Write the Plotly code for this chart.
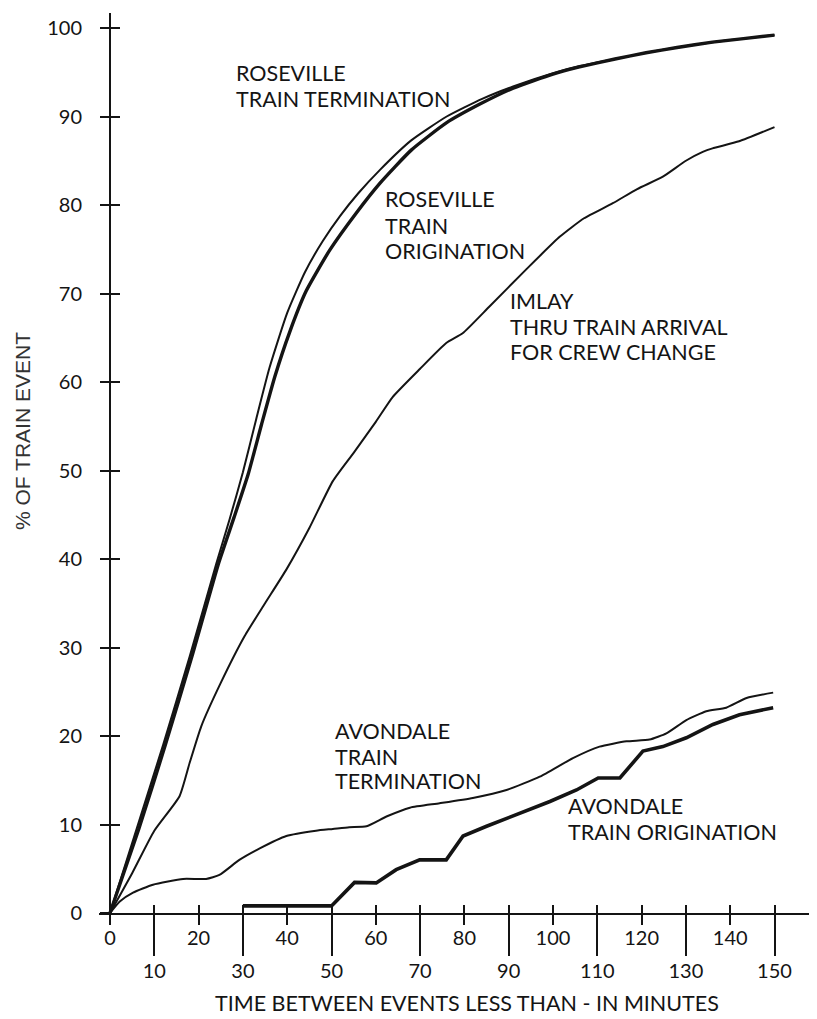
import plotly.graph_objects as go

# ---------------- data ----------------
ros_term_x = [0, 6, 12, 18, 24, 27, 30, 33, 36, 40, 44, 48, 52, 56, 61, 68, 76, 84, 91, 100, 106, 114, 121, 128, 136, 143, 150]
ros_term_y = [0, 9.5, 19, 29, 39.5, 44.5, 49.8, 55.8, 61.6, 67.8, 72.4, 75.9, 78.8, 81.3, 84.0, 87.3, 90.0, 92.0, 93.4, 94.9, 95.7, 96.5, 97.2, 97.8, 98.4, 98.8, 99.2]

ros_orig_x = [0, 6.5, 12.5, 18.5, 24.5, 28, 31.2, 34.2, 37.2, 40.6, 44.3, 49.6, 55.6, 61, 68, 76, 83.5, 91, 100, 106, 114, 121, 128, 136, 143, 150]
ros_orig_y = [0, 9.5, 19, 29, 39.5, 44.7, 49.6, 55.2, 60.6, 65.7, 70.3, 74.9, 79.1, 82.5, 86.2, 89.3, 91.4, 93.2, 94.8, 95.6, 96.5, 97.2, 97.8, 98.4, 98.8, 99.2]

imlay_x = [0, 5, 10, 15.7, 18, 20.6, 25, 30.4, 35, 39.8, 45, 50.3, 55, 60, 63.8, 70, 75.9, 79.6, 85.6, 93.9, 101.5, 107, 113.5, 119, 124.8, 130, 133.8, 136, 142, 150]
imlay_y = [0, 4.5, 9.3, 13.2, 17, 21.1, 26, 31.3, 35, 38.8, 43.5, 48.8, 52, 55.5, 58.3, 61.5, 64.4, 65.5, 68.5, 72.7, 76.4, 78.5, 80.2, 81.8, 83.2, 85, 86.0, 86.4, 87.2, 88.8]

avon_term_x = [0, 2.2, 5.2, 9.7, 16.5, 21.7, 24.7, 29.2, 33.8, 39.8, 46.5, 50.3, 54, 57.9, 62.4, 67.7, 74.4, 81.9, 89.5, 97, 104.5, 110.5, 116.6, 121.8, 125.6, 130.1, 134.6, 139.1, 143.7, 149.7]
avon_term_y = [0, 1.3, 2.3, 3.2, 3.85, 3.85, 4.3, 6.0, 7.3, 8.7, 9.3, 9.5, 9.7, 9.8, 10.9, 11.9, 12.4, 13.0, 13.9, 15.4, 17.5, 18.8, 19.4, 19.6, 20.3, 21.8, 22.8, 23.2, 24.3, 24.9]

avon_orig_x = [30, 50, 55.2, 60.1, 64.6, 69.9, 75.9, 79.7, 85, 91.7, 99.3, 105.3, 110.2, 115.1, 120.3, 124.8, 130.1, 136.1, 142.1, 149.7]
avon_orig_y = [0.8, 0.8, 3.46, 3.4, 4.9, 6.0, 6.0, 8.7, 9.8, 11.1, 12.6, 13.9, 15.25, 15.25, 18.3, 18.8, 19.8, 21.3, 22.4, 23.2]

x_upper_ticks = [0, 20, 40, 60, 80, 100, 120, 140]
x_lower_ticks = [10, 30, 50, 70, 90, 110, 130, 150]
x_all_ticks = list(range(0, 151, 10))
y_ticks = list(range(0, 101, 10))

# label lines: (text, x of left edge, y of line centre) in data units
label_lines = [
    ("ROSEVILLE", 28.0, 94.9),
    ("TRAIN TERMINATION", 28.0, 91.95),
    ("ROSEVILLE", 61.7, 80.68),
    ("TRAIN", 61.7, 77.65),
    ("ORIGINATION", 61.7, 74.82),
    ("IMLAY", 89.9, 69.18),
    ("THRU TRAIN ARRIVAL", 89.9, 66.16),
    ("FOR CREW CHANGE", 89.9, 63.34),
    ("AVONDALE", 50.4, 20.59),
    ("TRAIN", 50.4, 17.68),
    ("TERMINATION", 50.4, 14.86),
    ("AVONDALE", 103.0, 12.05),
    ("TRAIN ORIGINATION", 103.0, 9.13),
]

# ---------------- styling ----------------
# The html page has an 8px body margin, so the figure is 8px smaller and
# every reference pixel position is shifted by -8.
OFF = 8
W, H = 817 - OFF, 1019 - OFF
ML, MR, MT = 99 - OFF, 0, 13 - OFF
MB = H - (913 - OFF)
PX_PER_X = 4.43
PX_PER_Y = 8.85
X0_PX = 110 - OFF
x_lo = -(X0_PX - ML) / PX_PER_X
x_hi = x_lo + (W - ML - MR) / PX_PER_X
y_hi = (H - MT - MB) / PX_PER_Y
XR = [x_lo, x_hi]
YR = [0, y_hi]
YPOS = (X0_PX - ML) / (W - ML - MR)

INK = "#141414"
FONT = "Lato"

fig = go.Figure()

def add_line(x, y, width, shape="linear"):
    fig.add_trace(go.Scatter(x=x, y=y, mode="lines",
                             line=dict(color=INK, width=width, shape=shape, smoothing=0.5),
                             hoverinfo="skip", showlegend=False))

add_line(ros_term_x, ros_term_y, 2.0, "spline")
add_line(ros_orig_x, ros_orig_y, 3.4, "spline")
add_line(imlay_x, imlay_y, 2.0, "spline")
add_line(avon_term_x, avon_term_y, 2.0, "spline")
add_line(avon_orig_x, avon_orig_y, 3.6, "linear")

# empty traces so overlay axes get drawn
fig.add_trace(go.Scatter(x=[], y=[], xaxis="x2", yaxis="y", showlegend=False))
fig.add_trace(go.Scatter(x=[], y=[], xaxis="x3", yaxis="y", showlegend=False))
fig.add_trace(go.Scatter(x=[], y=[], xaxis="x", yaxis="y2", showlegend=False))

tickfont = dict(family=FONT, size=20, color=INK)

fig.update_layout(
    width=W, height=H,
    margin=dict(l=ML, r=MR, t=MT, b=MB, pad=0, autoexpand=False),
    paper_bgcolor="white", plot_bgcolor="white",
    showlegend=False,
    xaxis=dict(range=XR, domain=[0, 1], anchor="y", showgrid=False, zeroline=False, automargin=False,
               showline=True, linecolor=INK, linewidth=2,
               tickmode="array", tickvals=x_upper_ticks, ticktext=[str(v) for v in x_upper_ticks],
               ticks="outside", ticklen=10, tickwidth=2, tickcolor=INK,
               tickfont=tickfont, ticklabelstandoff=-4),
    xaxis2=dict(range=XR, overlaying="x", anchor="y", side="bottom", showgrid=False, zeroline=False,
                showline=False, automargin=False,
                tickmode="array", tickvals=x_lower_ticks, ticktext=[str(v) for v in x_lower_ticks],
                ticks="outside", ticklen=42, tickwidth=2, tickcolor=INK,
                tickfont=tickfont, ticklabelstandoff=-2),
    xaxis3=dict(range=XR, overlaying="x", anchor="y", side="bottom", showgrid=False, zeroline=False,
                showline=False, showticklabels=False, automargin=False,
                tickmode="array", tickvals=x_all_ticks,
                ticks="inside", ticklen=8, tickwidth=2, tickcolor=INK),
    yaxis=dict(range=YR, domain=[0, 1], anchor="free", position=YPOS, showgrid=False, zeroline=False,
               showline=True, linecolor=INK, linewidth=2, automargin=False,
               tickmode="array", tickvals=y_ticks, ticktext=[str(v) for v in y_ticks],
               ticks="outside", ticklen=9, tickwidth=2, tickcolor=INK,
               tickfont=tickfont, ticklabelstandoff=14),
    yaxis2=dict(range=YR, overlaying="y", anchor="free", position=YPOS, showgrid=False, zeroline=False,
                showline=False, showticklabels=False, automargin=False,
                tickmode="array", tickvals=y_ticks,
                ticks="inside", ticklen=9, tickwidth=2, tickcolor=INK),
)

for text, lx, ly in label_lines:
    fig.add_annotation(x=lx, y=ly, xref="x", yref="y", text=text, showarrow=False,
                       xanchor="left", yanchor="middle", align="left",
                       font=dict(family=FONT, size=21.5, color=INK))

# axis titles (reference pixel centres converted to paper fractions)
plot_h = H - MT - MB
plot_w = W - ML - MR
fig.add_annotation(x=(467 - OFF - ML) / plot_w, y=(H - MB - (1003 - OFF)) / plot_h,
                   xref="paper", yref="paper",
                   text="TIME BETWEEN EVENTS LESS THAN - IN MINUTES", showarrow=False,
                   xanchor="center", yanchor="middle",
                   font=dict(family=FONT, size=21.5, color=INK))
fig.add_annotation(x=(22 - OFF - ML) / plot_w, y=(H - MB - (431 - OFF)) / plot_h,
                   xref="paper", yref="paper",
                   text="% OF TRAIN EVENT", showarrow=False, textangle=-90,
                   xanchor="center", yanchor="middle",
                   font=dict(family="Liberation Sans", size=21, color="#333333"))

fig.write_html("out.html")
